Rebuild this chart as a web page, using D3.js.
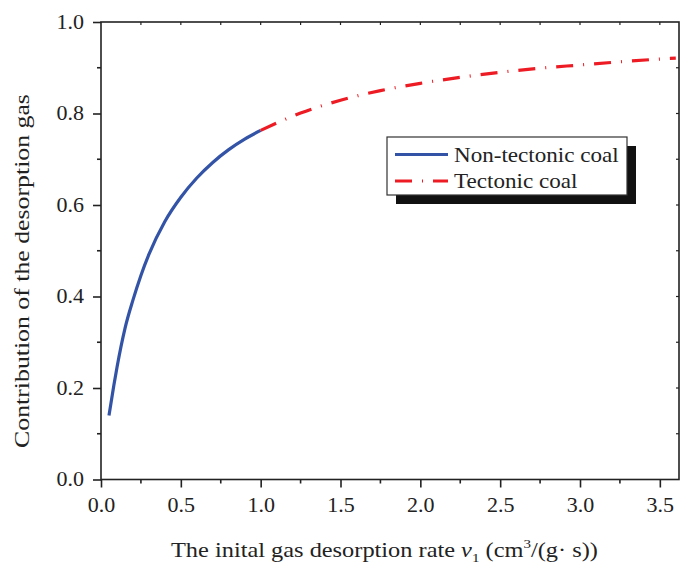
<!DOCTYPE html>
<html><head><meta charset="utf-8">
<script src="https://cdn.jsdelivr.net/npm/d3@7"></script>
<style>
body{margin:0;background:#fff;}
text{font-family:"Liberation Serif","Times New Roman",Times,"DejaVu Serif",serif !important;}
</style></head>
<body><svg id="c" width="686" height="568"></svg>
<script>
// Data
const nonTectonicX = [0.05, 0.08, 0.10, 0.15, 0.20, 0.25, 0.30, 0.40, 0.50, 0.60, 0.70, 0.80, 0.90, 1.00];
const nonTectonicY = [0.140, 0.205, 0.245, 0.330, 0.392, 0.446, 0.492, 0.564, 0.617, 0.659, 0.693, 0.721, 0.744, 0.763];
const tectonicX = [1.00, 1.25, 1.50, 1.75, 2.00, 2.25, 2.50, 2.75, 3.00, 3.25, 3.50, 3.60];
const tectonicY = [0.763, 0.801, 0.829, 0.850, 0.866, 0.879, 0.890, 0.899, 0.906, 0.913, 0.919, 0.921];
const xTicks = [0.0, 0.5, 1.0, 1.5, 2.0, 2.5, 3.0, 3.5];
const yTicks = [0.0, 0.2, 0.4, 0.6, 0.8, 1.0];
const seriesNames = ["Non-tectonic coal", "Tectonic coal"];

const svg = d3.select("#c");
const L = 101, R = 679, T = 22, B = 479.5;
const x = d3.scaleLinear().domain([0, 3.62]).range([L, R]);
const y = d3.scaleLinear().domain([0, 1]).range([B, T]);
const axisColor = "#222";
const fs = 20;
const stretch = 1.1;

// curves
const line = d3.line().x(d => x(d[0])).y(d => y(d[1])).curve(d3.curveMonotoneX);
svg.append("path").datum(d3.zip(nonTectonicX, nonTectonicY)).attr("d", line)
  .attr("fill", "none").attr("stroke", "#3353a6").attr("stroke-width", 3.2);
svg.append("path").datum(d3.zip(tectonicX, tectonicY)).attr("d", line)
  .attr("fill", "none").attr("stroke", "#ed1c24").attr("stroke-width", 3.2)
  .attr("stroke-dasharray", "17,10,1,10");

// frame
svg.append("rect").attr("x", L).attr("y", T).attr("width", R - L).attr("height", B - T)
  .attr("fill", "none").attr("stroke", axisColor).attr("stroke-width", 1.6);

// axes
const xMinor = d3.range(0.25, 3.62, 0.5);
const yMinor = d3.range(0.1, 1.0, 0.2);
const xa = d3.axisBottom(x).tickValues(xTicks).tickFormat(d3.format(".1f")).tickSize(8).tickPadding(10);
const gx = svg.append("g").attr("transform", `translate(0,${B})`).call(xa);
const ya = d3.axisLeft(y).tickValues(yTicks).tickFormat(d3.format(".1f")).tickSize(8).tickPadding(9);
const gy = svg.append("g").attr("transform", `translate(${L},0)`).call(ya);
[gx, gy].forEach(g => {
  g.attr("font-family", null).attr("font-size", null);
  g.select(".domain").remove();
  g.selectAll("line").attr("stroke", axisColor).attr("stroke-width", 1.6);
  g.selectAll("text").attr("fill", "#222").style("font-size", fs + "px");
});
gx.selectAll("text").attr("transform", `scale(${stretch},1)`);
gy.selectAll("text").attr("dy", "0.32em").attr("x", 0)
  .attr("transform", `translate(-17,0) scale(${stretch},1)`);
// minor ticks
svg.append("g").selectAll("line").data(xMinor).join("line")
  .attr("x1", d => x(d)).attr("x2", d => x(d)).attr("y1", B).attr("y2", B + 4)
  .attr("stroke", axisColor).attr("stroke-width", 1.6);
svg.append("g").selectAll("line").data(yMinor).join("line")
  .attr("x1", L).attr("x2", L - 4).attr("y1", d => y(d)).attr("y2", d => y(d))
  .attr("stroke", axisColor).attr("stroke-width", 1.6);
// top / right inward ticks
svg.append("g").selectAll("line").data(xTicks.concat(xMinor).filter(d => d > 0)).join("line")
  .attr("x1", d => x(d)).attr("x2", d => x(d)).attr("y1", T).attr("y2", T + 3)
  .attr("stroke", axisColor).attr("stroke-width", 1.2);
svg.append("g").selectAll("line").data(yTicks.concat(yMinor).filter(d => d > 0 && d < 1)).join("line")
  .attr("x1", R).attr("x2", R - 3).attr("y1", d => y(d)).attr("y2", d => y(d))
  .attr("stroke", axisColor).attr("stroke-width", 1.2);

// axis titles
const xt = svg.append("text").attr("transform", "translate(171,557) scale(1.16,1)").attr("fill", "#222")
  .style("font-size", "21px");
xt.append("tspan").text("The inital gas desorption rate ");
xt.append("tspan").attr("font-style", "italic").text("v");
xt.append("tspan").attr("dy", 5).style("font-size", "13px").text("1");
xt.append("tspan").attr("dy", -5).text(" (cm");
xt.append("tspan").attr("dy", -9).style("font-size", "13px").text("3");
xt.append("tspan").attr("dy", 9).text("/(g· s))");

svg.append("text").attr("transform", "translate(29,271) rotate(-90) scale(1.2,1)")
  .attr("text-anchor", "middle").attr("fill", "#222")
  .style("font-size", "21.5px")
  .text("Contribution of the desorption gas");

// legend
const lg = svg.append("g");
lg.append("rect").attr("x", 396).attr("y", 146).attr("width", 240).attr("height", 58).attr("fill", "#111");
lg.append("rect").attr("x", 387).attr("y", 137).attr("width", 240).attr("height", 58)
  .attr("fill", "#fff").attr("stroke", "#333").attr("stroke-width", 1.2);
const items = [
  {name: seriesNames[0], color: "#3353a6", dash: null, yy: 154.5},
  {name: seriesNames[1], color: "#ed1c24", dash: "17,10,1,10", yy: 181}
];
items.forEach(it => {
  lg.append("line").attr("x1", 395).attr("x2", 448).attr("y1", it.yy).attr("y2", it.yy)
    .attr("stroke", it.color).attr("stroke-width", 3.2).attr("stroke-dasharray", it.dash);
  lg.append("text").attr("transform", `translate(454,${it.yy}) scale(1.1,1)`)
    .attr("dy", "0.34em").attr("fill", "#222")
    .style("font-size", "21px").text(it.name);
});
</script></body></html>
